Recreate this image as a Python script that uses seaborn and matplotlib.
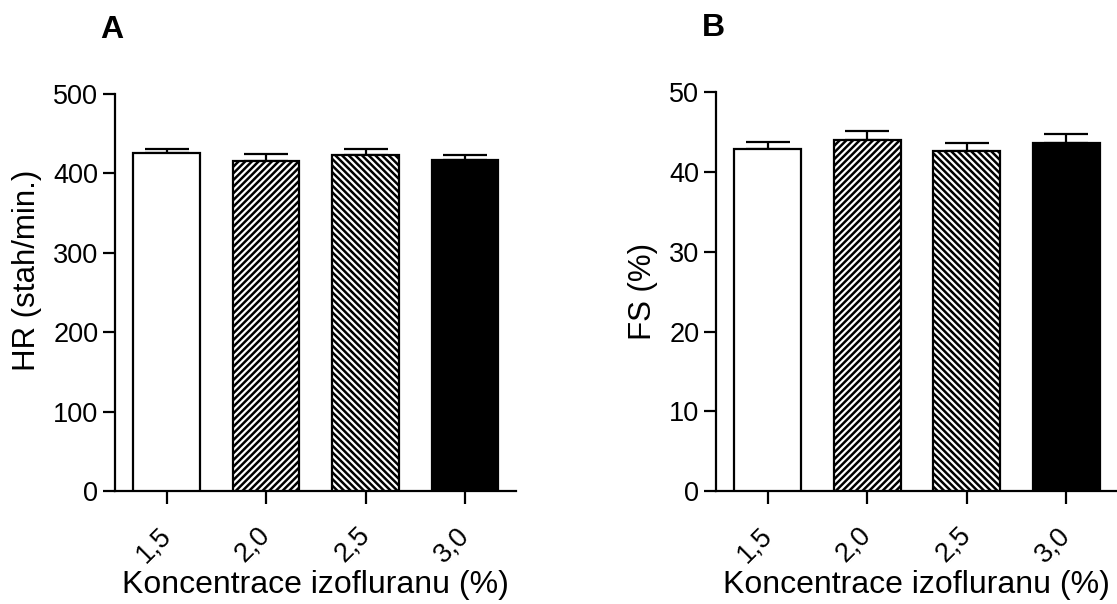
import matplotlib
matplotlib.use("Agg")
import matplotlib.pyplot as plt
import seaborn as sns
import pandas as pd

categories = ["1,5", "2,0", "2,5", "3,0"]
hr_values = [426, 415, 423, 416.5]
hr_err = [4.5, 10, 8, 7]
fs_values = [42.9, 44.0, 42.6, 43.6]
fs_err = [0.9, 1.2, 1.1, 1.2]

facecolors = ["white", "white", "white", "black"]
hatches = ["", "/////", "\\\\\\\\\\", ""]

sns.set_theme(style="ticks")
plt.rcParams["font.family"] = ["Liberation Sans", "DejaVu Sans"]
plt.rcParams["hatch.linewidth"] = 1.8
plt.rcParams["hatch.color"] = "black"
plt.rcParams["text.color"] = "black"

fig = plt.figure(figsize=(11.17, 6.04), dpi=100)
axA = fig.add_axes([0.103, 0.187, 0.3587, 0.6574])
axB = fig.add_axes([0.641, 0.187, 0.359, 0.660])


def panel(ax, values, err, ylim, yticks, ylabel, ylabel_y):
    df = pd.DataFrame({"c": categories, "v": values})
    sns.barplot(data=df, x="c", y="v", ax=ax, width=0.67, errorbar=None,
                color="white", edgecolor="black", linewidth=1.6, zorder=3)
    for p, fc, h in zip(ax.patches, facecolors, hatches):
        p.set_facecolor(fc)
        p.set_hatch(h)
        p.set_edgecolor("black")
    ax.errorbar(range(len(categories)), values,
                yerr=[[0] * len(err), err], fmt="none", ecolor="black",
                elinewidth=1.6, capsize=15.5, capthick=1.6, zorder=2)
    ax.set_ylim(*ylim)
    ax.set_yticks(yticks)
    ax.set_xlim(-0.52, 3.51)
    sns.despine(ax=ax)
    for s in ["left", "bottom"]:
        ax.spines[s].set_linewidth(1.6)
        ax.spines[s].set_color("black")
    ax.tick_params(axis="both", length=9, width=1.6, color="black",
                   labelsize=19.5, labelcolor="black", pad=3)
    ax.tick_params(axis="x", pad=20)
    ax.set_xticks(range(len(categories)))
    ax.set_xticklabels(categories, rotation=45, ha="right",
                       rotation_mode="anchor", va="center")
    ax.set_xlabel("Koncentrace izofluranu (%)", fontsize=23, color="black",
                  labelpad=2)
    ax.set_ylabel(ylabel, fontsize=22.5, color="black", labelpad=8)
    ax.yaxis.label.set_y(ylabel_y)
    ax.set_facecolor("white")


panel(axA, hr_values, hr_err, (0, 500), [0, 100, 200, 300, 400, 500],
      "HR (stah/min.)", 0.557)
panel(axB, fs_values, fs_err, (0, 50), [0, 10, 20, 30, 40, 50], "FS (%)",
      0.5)

fig.text(112 / 1117, 1 - 30 / 604, "A", fontsize=23, fontweight="bold",
         ha="center", va="center", color="black")
fig.text(713 / 1117, 1 - 28 / 604, "B", fontsize=23, fontweight="bold",
         ha="center", va="center", color="black")

fig.savefig("out.png", dpi=100, facecolor="white")
